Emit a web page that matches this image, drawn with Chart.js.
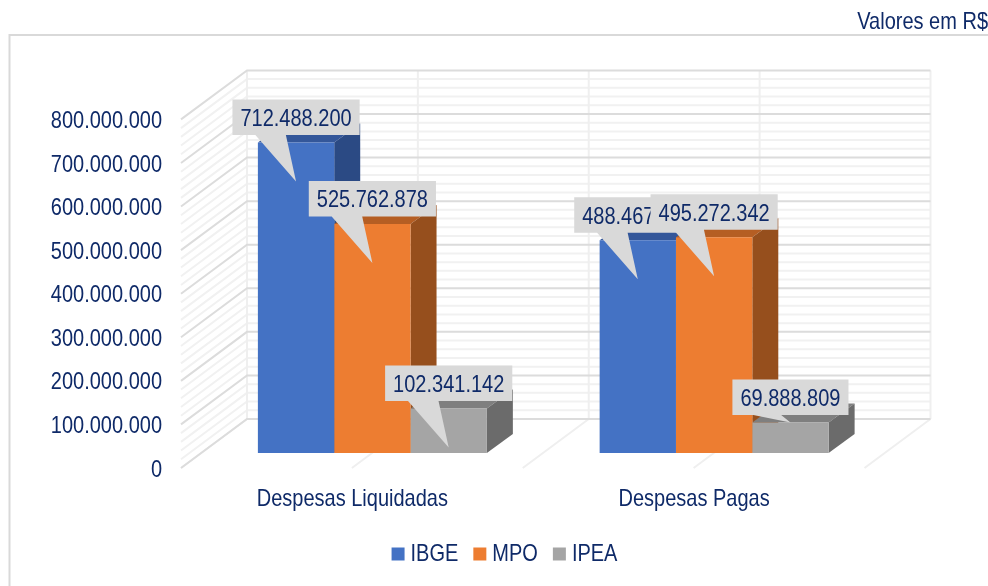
<!DOCTYPE html>
<html><head><meta charset="utf-8">
<style>html,body{margin:0;padding:0;background:#fff;overflow:hidden}canvas{display:block}</style>
<script src="https://cdn.jsdelivr.net/npm/chart.js@4"></script></head>
<body><canvas id="c" width="988" height="586"></canvas>
<script>
const categories = ['Despesas Liquidadas', 'Despesas Pagas'];
const seriesNames = ['IBGE', 'MPO', 'IPEA'];
const ibge = [712488200, 488467000];
const mpo = [525762878, 495272342];
const ipea = [102341142, 69888809];
const note = 'Valores em R$';
const FONT = '"Liberation Sans",Arial,sans-serif';
const SIZE = 24, NAVY = '#0f2a68', NARROW = 0.833;
const fmt = v => String(Math.round(v)).replace(/\B(?=(\d{3})+$)/g, '.');
const faces = [['#34579a', '#2b4a84'], ['#b55e23', '#964f1d'], ['#7f7f7f', '#6b6b6b']];
const D = {dx: 26, dy: 19};

// condense all canvas text horizontally, as in the reference
const canvas = document.getElementById('c');
const ctx0 = canvas.getContext('2d');
const rawFill = ctx0.fillText.bind(ctx0), rawMeasure = ctx0.measureText.bind(ctx0);
ctx0.fillText = function (t, x, y, m) {
  ctx0.save(); ctx0.translate(x, y); ctx0.scale(NARROW, 1); rawFill(t, 0, 0); ctx0.restore();
};
ctx0.measureText = function (t) {
  return {width: rawMeasure(t).width * NARROW};
};

const walls = {
  id: 'walls',
  beforeDraw(ch) {
    ch.legend.left = 130; ch.legend.right = 885;
  },
  beforeDatasetsDraw(ch) {
    const c = ch.ctx, y = ch.scales.y, a = ch.chartArea;
    const fx = a.left - 20.5, fy = 15, bx = a.left + 45.5, by = -34, sec = a.width / 4, rx = bx + a.width;
    c.save();
    c.strokeStyle = '#d9d9d9'; c.lineWidth = 2;
    c.strokeRect(9.5, 35, 1000, 570);
    for (let v = 800e6; v >= 0; v -= 20e6) {
      const p = y.getPixelForValue(v);
      if (v % 100e6 === 0) continue;
      c.strokeStyle = '#f1f1f1';
      c.beginPath(); c.moveTo(fx, p + fy); c.lineTo(bx, p + by); c.lineTo(rx, p + by); c.stroke();
    }
    for (let i = 0; i <= 4; i++) {
      c.strokeStyle = '#efefef';
      c.beginPath(); c.moveTo(bx + i * sec, y.getPixelForValue(800e6) + by); c.lineTo(bx + i * sec, y.getPixelForValue(0) + by); c.stroke();
      c.beginPath(); c.moveTo(fx + i * sec, y.getPixelForValue(0) + fy); c.lineTo(bx + i * sec, y.getPixelForValue(0) + by); c.stroke();
    }
    for (let v = 800e6; v >= 0; v -= 100e6) {
      const p = y.getPixelForValue(v);
      c.strokeStyle = '#dcdcdc';
      c.beginPath(); c.moveTo(fx, p + fy); c.lineTo(bx, p + by); c.lineTo(rx, p + by); c.stroke();
    }
    // 3D top and side faces of the bars
    const n = ch.data.labels.length;
    for (let k = 0; k < n; k++) ch.data.datasets.forEach((ds, i) => {
      const b = ch.getDatasetMeta(i).data[k];
      const l = b.x - b.width / 2, r = b.x + b.width / 2, t = b.y, bot = b.base;
      c.fillStyle = faces[i][0];
      c.beginPath(); c.moveTo(l, t); c.lineTo(l + D.dx, t - D.dy); c.lineTo(r + D.dx, t - D.dy); c.lineTo(r, t); c.closePath(); c.fill();
      c.fillStyle = faces[i][1];
      c.beginPath(); c.moveTo(r, t); c.lineTo(r + D.dx, t - D.dy); c.lineTo(r + D.dx, bot - D.dy); c.lineTo(r, bot); c.closePath(); c.fill();
    });
    c.restore();
  }
};

const callouts = {
  id: 'callouts',
  afterDatasetsDraw(ch) {
    const c = ch.ctx;
    c.save();
    c.font = SIZE + 'px ' + FONT;
    c.textBaseline = 'middle'; c.textAlign = 'center';
    ch.data.labels.forEach((_, k) => ch.data.datasets.forEach((ds, i) => {
      const b = ch.getDatasetMeta(i).data[k];
      const txt = fmt(ds.data[k]);
      const w = c.measureText(txt).width + 16, h = 35.5;
      const x = b.x - w / 2, top = b.y - 43;
      const tipY = b.y + (k === 1 && i === 2 ? 0 : 39);
      c.fillStyle = '#d9d9d9';
      c.beginPath();
      c.moveTo(x, top); c.lineTo(x + w, top); c.lineTo(x + w, top + h);
      c.lineTo(x + w * 0.42, top + h); c.lineTo(b.x, tipY); c.lineTo(x + w * 0.18, top + h);
      c.lineTo(x, top + h); c.closePath(); c.fill();
      c.fillStyle = NAVY;
      c.fillText(txt, b.x, top + h / 2 + 2);
    }));
    c.textAlign = 'right';
    c.fillText(note, 988, 22);
    c.restore();
  }
};

new Chart(canvas, {
  type: 'bar',
  data: {
    labels: categories,
    datasets: [
      {label: seriesNames[0], data: ibge, backgroundColor: '#4472c4'},
      {label: seriesNames[1], data: mpo, backgroundColor: '#ed7d31'},
      {label: seriesNames[2], data: ipea, backgroundColor: '#a5a5a5'}
    ]
  },
  options: {
    responsive: false, animation: false,
    barPercentage: 1, categoryPercentage: 0.67,
    layout: {padding: {left: 0, right: 103, top: 104.4, bottom: 10}},
    plugins: {
      tooltip: {enabled: false},
      legend: {position: 'bottom', labels: {usePointStyle: true, pointStyle: 'rect', boxWidth: 1, boxHeight: 13, color: NAVY, padding: 21, font: {family: FONT, size: SIZE}}}
    },
    scales: {
      x: {
        grid: {display: false}, border: {display: false},
        afterFit: s => { s.height = 68; },
        ticks: {color: NAVY, padding: 24, labelOffset: -20, maxRotation: 0, font: {family: FONT, size: SIZE}}
      },
      y: {
        min: 0, max: 800000000,
        grid: {display: false}, border: {display: false},
        afterFit: s => { s.width = 201.5; },
        ticks: {stepSize: 100000000, color: NAVY, padding: 31.5, labelOffset: 17, callback: v => fmt(v), font: {family: FONT, size: SIZE}}
      }
    }
  },
  plugins: [walls, callouts]
});
</script></body></html>
